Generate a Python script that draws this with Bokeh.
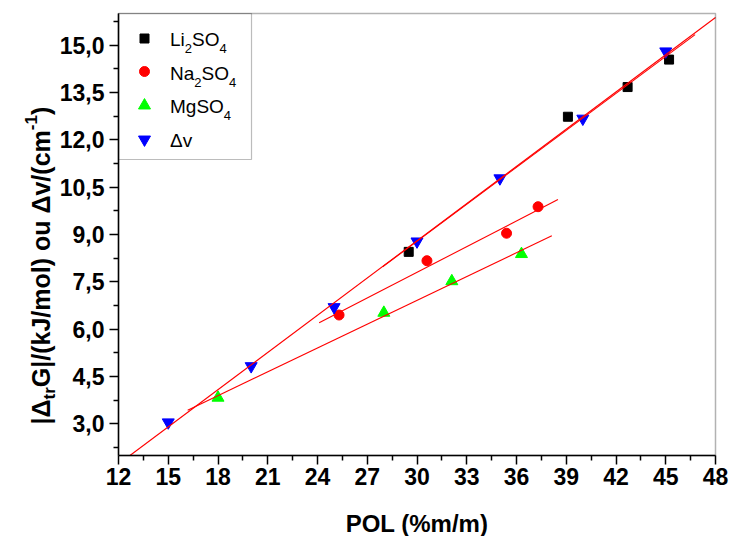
import numpy as np
from bokeh.plotting import figure
from bokeh.models import (FixedTicker, CustomJSTickFormatter, Label, BoxAnnotation,
                          LinearAxis)
from bokeh.embed import file_html
from bokeh.resources import INLINE

# |Δtr G| (kJ/mol) against POL content (%m/m) for each salt
li_x = [29.5, 39.1, 42.7, 45.2]
li_y = [8.45, 12.73, 13.67, 14.54]
na_x = [25.3, 30.6, 35.4, 37.3]
na_y = [6.45, 8.17, 9.04, 9.88]
mg_x = [18.0, 28.0, 32.1, 36.3]
mg_y = [3.83, 6.52, 7.52, 8.38]
# band shift Δv (cm^-1)
dv_x = [15, 20, 25, 30, 35, 40, 45]
dv_y = [3.05, 4.83, 6.70, 8.78, 10.78, 12.67, 14.80]

x_ticks = [12, 15, 18, 21, 24, 27, 30, 33, 36, 39, 42, 45, 48]
y_ticks = [3.0, 4.5, 6.0, 7.5, 9.0, 10.5, 12.0, 13.5, 15.0]

W, H = 731, 536
FL, FR, FT, FB = 118, 715, 13, 455          # axis box edges (px)
X_LIM, Y_LIM = (12, 48), (2, 16)            # axis extents
FONT = "Liberation Sans"
BASE_FIX = 0.3                              # baseline correction of Label text (em)


def xd(px):
    return X_LIM[0] + (px - FL) / (FR - FL) * (X_LIM[1] - X_LIM[0])


def yd(py):
    return Y_LIM[1] - (py - FT) / (FB - FT) * (Y_LIM[1] - Y_LIM[0])


# Arial-metric advance widths (per 1000 em) used to chain text runs
REG = {"L": 556, "i": 222, "S": 667, "O": 778, "N": 722, "a": 556, "M": 833,
       "g": 556, "v": 500, "Δ": 668, "2": 556, "4": 556}
BOLD = {"|": 280, "Δ": 722, "t": 333, "r": 389, "G": 778, "/": 278, "(": 333,
        ")": 333, "k": 556, "J": 556, "m": 889, "o": 611, "l": 278, " ": 278,
        "u": 611, "v": 556, "c": 556, "-": 333, "1": 556}


def text_width(s, size, table):
    return sum(table.get(ch, 556) for ch in s) * size / 1000.0


# the frame spans the whole canvas; the axes sit at fixed data locations
p = figure(width=W, height=H, x_range=(xd(0), xd(W)), y_range=(yd(H), yd(0)),
           output_backend="svg", toolbar_location=None,
           x_axis_location=None, y_axis_location=None, min_border=0,
           background_fill_color="white", border_fill_color="white")
p.xgrid.visible = False
p.ygrid.visible = False
p.outline_line_color = None

xaxis = LinearAxis(fixed_location=Y_LIM[0], bounds=X_LIM,
                   ticker=FixedTicker(ticks=x_ticks,
                                      minor_ticks=[t + 1.5 for t in x_ticks[:-1]]))
yaxis = LinearAxis(fixed_location=X_LIM[0], bounds=Y_LIM,
                   ticker=FixedTicker(ticks=y_ticks,
                                      minor_ticks=[y_ticks[0] - 0.75] + [t + 0.75 for t in y_ticks]),
                   formatter=CustomJSTickFormatter(
                       code="return tick.toFixed(1).replace('.', ',');"))
for ax in (xaxis, yaxis):
    ax.axis_line_width = 1.5
    ax.axis_line_color = "black"
    ax.major_tick_line_width = 1.5
    ax.minor_tick_line_width = 1.5
    ax.major_tick_in = 0
    ax.minor_tick_in = 0
    ax.major_tick_out = 9
    ax.minor_tick_out = 5
    ax.major_label_text_font = FONT
    ax.major_label_text_font_style = "bold"
    ax.major_label_text_font_size = "23px"
    ax.major_label_text_color = "black"
xaxis.major_label_standoff = 3
yaxis.major_label_standoff = 5
p.add_layout(xaxis, "below")
p.add_layout(yaxis, "left")

# closed axis box (top and right edges)
p.add_layout(BoxAnnotation(left=X_LIM[0], right=X_LIM[1], bottom=Y_LIM[0], top=Y_LIM[1],
                           fill_alpha=0, line_color="black", line_width=1.5))

# data markers
p.scatter(li_x, li_y, marker="square", size=9, color="black")
p.scatter(na_x, na_y, marker="circle", size=10, color="#FF0000")
p.scatter(mg_x, mg_y, marker="triangle", size=12, color="#00FF00")
p.scatter(dv_x, dv_y, marker="inverted_triangle", size=12, color="#0000FF")

# linear fits over the data range widened by 10 % on each side,
# kept inside the axis box
for xs, ys in [(dv_x, dv_y), (li_x, li_y), (na_x, na_y), (mg_x, mg_y)]:
    k, b = np.polyfit(xs, ys, 1)
    span = max(xs) - min(xs)
    lo = max(min(xs) - 0.1 * span, X_LIM[0], (Y_LIM[0] - b) / k)
    hi = min(max(xs) + 0.1 * span, X_LIM[1], (Y_LIM[1] - b) / k)
    fx = np.array([lo, hi])
    p.line(fx, k * fx + b, line_color="#FF0000", line_width=1.1)

# legend frame
p.add_layout(BoxAnnotation(left=X_LIM[0], right=xd(251), top=Y_LIM[1], bottom=yd(159),
                           fill_color="white", fill_alpha=1.0,
                           line_color="#222222", line_width=1.2, level="underlay"))


def htext(px, py, txt, fs, style="normal", align="left"):
    p.add_layout(Label(x=xd(px), y=yd(py - BASE_FIX * fs), text=txt,
                       text_font=FONT, text_font_size=f"{fs}px", text_font_style=style,
                       text_color="black", text_align=align, text_baseline="alphabetic"))


def vtext(px, py, txt, fs, style="bold"):
    p.add_layout(Label(x=xd(px - BASE_FIX * fs), y=yd(py), text=txt, angle=np.pi / 2,
                       text_font=FONT, text_font_size=f"{fs}px", text_font_style=style,
                       text_color="black", text_align="left", text_baseline="alphabetic"))


legend_rows = [
    ("square", "black", 9, [("Li", 0), ("2", 1), ("SO", 0), ("4", 1)]),
    ("circle", "#FF0000", 10, [("Na", 0), ("2", 1), ("SO", 0), ("4", 1)]),
    ("triangle", "#00FF00", 12, [("MgSO", 0), ("4", 1)]),
    ("inverted_triangle", "#0000FF", 12, [("Δv", 0)]),
]
row_marker_py = [38, 71, 105, 139]
row_text_py = [45, 79, 112, 146]
LEG_SIZE, LEG_SUB = 19, 13

for (marker, color, size, runs), mpy, tpy in zip(legend_rows, row_marker_py, row_text_py):
    p.scatter([xd(144)], [yd(mpy)], marker=marker, size=size, color=color)
    cx = 169.5
    for txt, sub in runs:
        fs = LEG_SUB if sub else LEG_SIZE
        htext(cx, tpy + (7 if sub else 0), txt, fs)
        cx += text_width(txt, fs, REG)

# x axis title
htext((FL + FR) / 2, 530, "POL (%m/m)", 24, style="bold", align="center")

# y axis title, rotated, built from normal / subscript / superscript runs
Y_SIZE, Y_SMALL = 25, 17
y_runs = [("|Δ", 0), ("tr", 6), ("G|/(kJ/mol) ou Δv/(cm", 0), ("-1", -12), (")", 0)]
base_px, cur_py = 48, 424
for txt, shift in y_runs:
    fs = Y_SIZE if shift == 0 else Y_SMALL
    vtext(base_px + shift, cur_py, txt, fs)
    cur_py -= text_width(txt, fs, BOLD)

open("out.html", "w").write(file_html(p, INLINE))
